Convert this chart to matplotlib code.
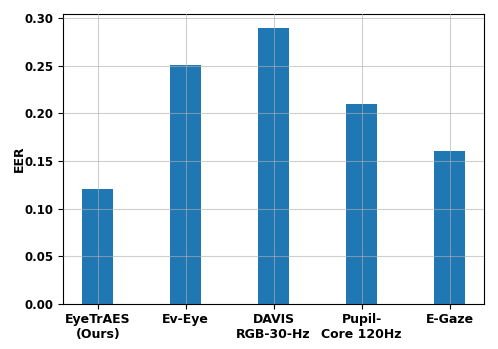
import matplotlib
matplotlib.use("Agg")
import matplotlib.pyplot as plt

methods = ["EyeTrAES\n(Ours)", "Ev-Eye", "DAVIS\nRGB-30-Hz", "Pupil-\nCore 120Hz", "E-Gaze"]
eer = [0.12, 0.251, 0.29, 0.21, 0.16]
yticks = [0.0, 0.05, 0.10, 0.15, 0.20, 0.25, 0.30]

fig, ax = plt.subplots(figsize=(4.98, 3.49), dpi=100)
x = list(range(len(methods)))
ax.bar(x, eer, width=0.35, color="#1f77b4")
ax.set_xticks(x)
ax.set_xticklabels(methods, fontsize=9, fontweight="bold")
ax.set_yticks(yticks)
ax.set_yticklabels([f"{v:.2f}" for v in yticks], fontsize=8.5, fontweight="bold")
ax.set_ylabel("EER", fontsize=9, fontweight="bold", labelpad=-1)
ax.grid(True, color="#b0b0b0", alpha=0.6)
ax.set_axisbelow(False)
fig.subplots_adjust(left=0.127, right=0.972, top=0.96, bottom=0.13)
fig.savefig("out.png", dpi=100)
